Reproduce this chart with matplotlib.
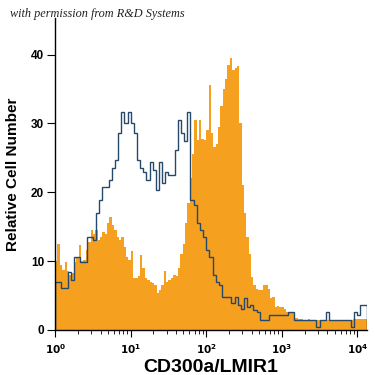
#!/usr/bin/env python3

import matplotlib
matplotlib.use('Agg')
import matplotlib.pyplot as plt
from matplotlib.ticker import LogLocator, NullFormatter

import numpy as np


# stained sample (orange, filled), bins of 1/32 decade starting at 10^0
orange_counts = [
    10.0, 12.5, 9.5, 8.7, 9.9, 8.5, 8.0, 8.3,
    9.9, 10.5, 12.3, 10.0, 10.2, 11.6, 12.8, 14.5,
    14.0, 14.5, 13.0, 13.5, 14.3, 13.9, 15.5, 16.4,
    15.3, 14.5, 13.5, 13.1, 13.5, 12.0, 10.6, 10.1,
    11.5, 7.5, 7.6, 7.8, 10.9, 9.0, 7.6, 7.2,
    7.0, 6.8, 6.5, 5.4, 5.8, 6.6, 8.5, 7.0,
    7.3, 7.5, 8.0, 7.8, 9.0, 11.0, 12.5, 15.5,
    18.5, 22.0, 25.5, 30.5, 27.6, 30.5, 27.8, 27.6,
    29.0, 35.6, 28.6, 26.6, 27.0, 29.5, 32.5, 35.0,
    36.5, 38.5, 39.5, 37.8, 38.0, 38.4, 30.0, 21.0,
    17.0, 13.5, 11.0, 7.7, 6.5, 6.0, 5.8, 5.8,
    6.5, 6.5, 6.0, 4.6, 4.8, 3.4, 3.5, 3.3,
    3.4, 3.0, 2.6, 2.6, 2.5, 1.7, 1.7, 1.6,
    1.6, 1.5, 1.5, 1.6, 1.5, 1.5, 1.4, 1.5,
    1.5, 1.5, 1.5, 1.5, 1.5, 1.5, 1.5, 1.5,
    1.5, 1.5, 1.4, 1.5, 1.5, 1.5, 1.6, 1.6,
    1.6, 1.6, 1.6, 1.6,
]

# isotype control (blue outline), bins of 1/24 decade starting at 10^0
blue_counts = [
    7.0, 7.0, 6.1, 6.1, 8.4, 7.3, 10.6, 10.6, 9.9, 9.9,
    13.5, 13.5, 13.1, 17.0, 18.9, 20.8, 20.8, 21.8, 23.5, 24.7,
    28.6, 31.7, 30.0, 31.7, 30.0, 28.6, 24.7, 23.5, 23.0, 21.8,
    24.4, 23.3, 20.3, 24.4, 21.4, 23.0, 22.5, 22.5, 26.2, 30.5,
    28.6, 27.4, 31.7, 18.9, 18.2, 15.5, 14.5, 13.5, 11.6, 10.6,
    8.0, 7.0, 6.5, 4.8, 4.8, 4.8, 3.9, 4.8, 3.6, 3.0,
    4.7, 3.4, 3.6, 2.9, 2.6, 1.45, 1.45, 1.45, 2.2, 2.2,
    2.2, 2.2, 2.2, 2.2, 2.6, 2.6, 1.45, 1.45, 1.45, 1.45,
    1.45, 1.45, 1.45, 0.4, 1.45, 1.45, 2.6, 1.45, 1.45, 1.45,
    1.45, 1.45, 1.45, 1.45, 0.4, 2.6, 2.2, 3.6, 3.6,
]

y_ticks = [0, 10, 20, 30, 40]
x_ticks = [1, 10, 100, 1000, 10000]
x_tick_labels = [r'$\mathbf{10^{0}}$', r'$\mathbf{10^{1}}$', r'$\mathbf{10^{2}}$',
                 r'$\mathbf{10^{3}}$', r'$\mathbf{10^{4}}$']


def main():
    plt.rcParams['font.family'] = ['Liberation Sans', 'DejaVu Sans']

    fig = plt.figure(figsize=(3.75, 3.75), dpi=100)
    ax = fig.add_axes([0.147, 0.12, 0.832, 0.832])

    # histogram bin edges on a log scale
    orange_edges = np.logspace(0, len(orange_counts) / 32, len(orange_counts) + 1)
    blue_edges = np.logspace(0, len(blue_counts) / 24, len(blue_counts) + 1)

    ax.stairs(orange_counts, orange_edges, fill=True, color='#f6a01f', lw=0)
    ax.stairs(blue_counts, blue_edges, fill=False, color='#24496b', lw=1.0)

    ax.set_xscale('log')
    ax.set_xlim(1, 10 ** 4.13)
    ax.set_ylim(0, 45.3)

    ax.set_xticks(x_ticks)
    ax.set_xticklabels(x_tick_labels, fontsize=7.5)
    ax.xaxis.set_minor_locator(LogLocator(base=10, subs=np.arange(2, 10), numticks=20))
    ax.xaxis.set_minor_formatter(NullFormatter())
    ax.set_yticks(y_ticks)
    ax.set_yticklabels([str(t) for t in y_ticks], fontsize=8.5, fontweight='bold')

    ax.tick_params(axis='x', which='major', length=5, width=0.8, pad=4)
    ax.tick_params(axis='x', which='minor', length=3, width=0.6)
    ax.tick_params(axis='y', length=6, width=0.8, pad=2)

    ax.spines['top'].set_visible(False)
    ax.spines['right'].set_visible(False)
    for side in ['left', 'bottom']:
        ax.spines[side].set_linewidth(1.0)

    ax.set_xlabel('CD300a/LMIR1', fontsize=14, fontweight='bold', labelpad=2)
    ax.set_ylabel('Relative Cell Number', fontsize=11, fontweight='bold', labelpad=8)

    fig.text(0.027, 0.955, 'with permission from R&D Systems', fontsize=8.8,
             style='italic', family='Liberation Serif', color='#222222')

    fig.savefig('out.png', dpi=100)


if __name__ == "__main__":
    main()
